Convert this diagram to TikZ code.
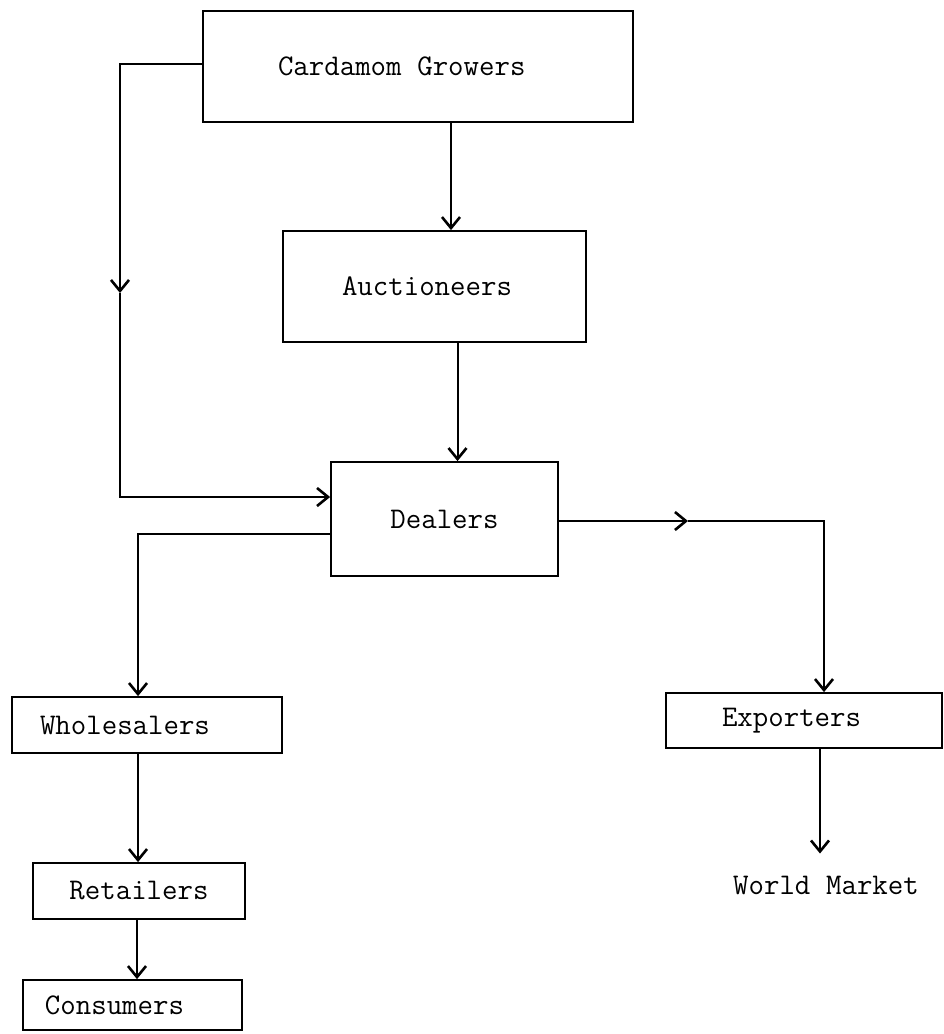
\documentclass[tikz,border=0pt]{standalone}
\usetikzlibrary{arrows.meta}
\begin{document}
\begin{tikzpicture}[x=1pt,y=-1pt,
  box/.style={draw, line width=1.8pt, font=\fontsize{30}{36}\selectfont\ttfamily, inner ysep=0pt},
  lbox/.style={box, align=left},
  conn/.style={line width=2pt},
  >={Straight Barb[length=11pt,width=18pt,line width=2.6pt]}]
\useasboundingbox (0,0) rectangle (943,1034);
% nodes
\node[lbox, inner xsep=75pt, text width=280pt, minimum height=111pt] (grow) at (418,66.5) {Cardamom\hspace{0.525em}Growers};
\node[lbox, inner xsep=59pt, text width=185pt, minimum height=111pt] (auct) at (434.5,286.5) {Auctioneers};
\node[box, minimum width=227pt, minimum height=114pt] (deal) at (444.5,519) {Dealers};
\node[lbox, inner xsep=28pt, text width=214pt, minimum height=56pt] (whole) at (147,725) {Wholesalers};
\node[lbox, inner xsep=56pt, text width=164pt, minimum height=55pt] (expo) at (804,720.5) {Exporters};
\node[box, minimum width=212pt, minimum height=56pt] (retail) at (139,891) {Retailers};
\node[lbox, inner xsep=22pt, text width=175pt, minimum height=50pt] (cons) at (132.5,1005) {Consumers};
\node[font=\fontsize{30}{36}\selectfont\ttfamily, inner sep=0pt] (world) at (826,885) {World\hspace{0.525em}Market};
% coordinates for bends
\coordinate (c1) at (120,64);
\coordinate (c2) at (120,293);
\coordinate (c3) at (120,497);
\coordinate (c5) at (138,534);
\coordinate (c6) at (688,521);
\coordinate (c7) at (824,521);
% connectors
\draw[conn,->] (grow.west |- c1) -- (c1) -- (c2);
\draw[conn,->] (c2) -- (c3) -- (deal.west |- c3);
\draw[conn,->] ([xshift=33pt]grow.south) -- ([xshift=33pt]grow.south |- auct.north);
\draw[conn,->] ([xshift=23pt]auct.south) -- ([xshift=23pt]auct.south |- deal.north);
\draw[conn,->] (deal.west |- c5) -- (c5) -- (c5 |- whole.north);
\draw[conn,->] (deal.east |- c6) -- (c6);
\draw[conn,->] (c6) -- (c7) -- (c7 |- expo.north);
\draw[conn,->,shorten >=22pt] ([xshift=16pt]expo.south) -- ([xshift=16pt]expo.south |- world.north);
\draw[conn,->] ([xshift=-9pt]whole.south) -- ([xshift=-9pt]whole.south |- retail.north);
\draw[conn,->] ([xshift=-2pt]retail.south) -- ([xshift=-2pt]retail.south |- cons.north);
\end{tikzpicture}
\end{document}
